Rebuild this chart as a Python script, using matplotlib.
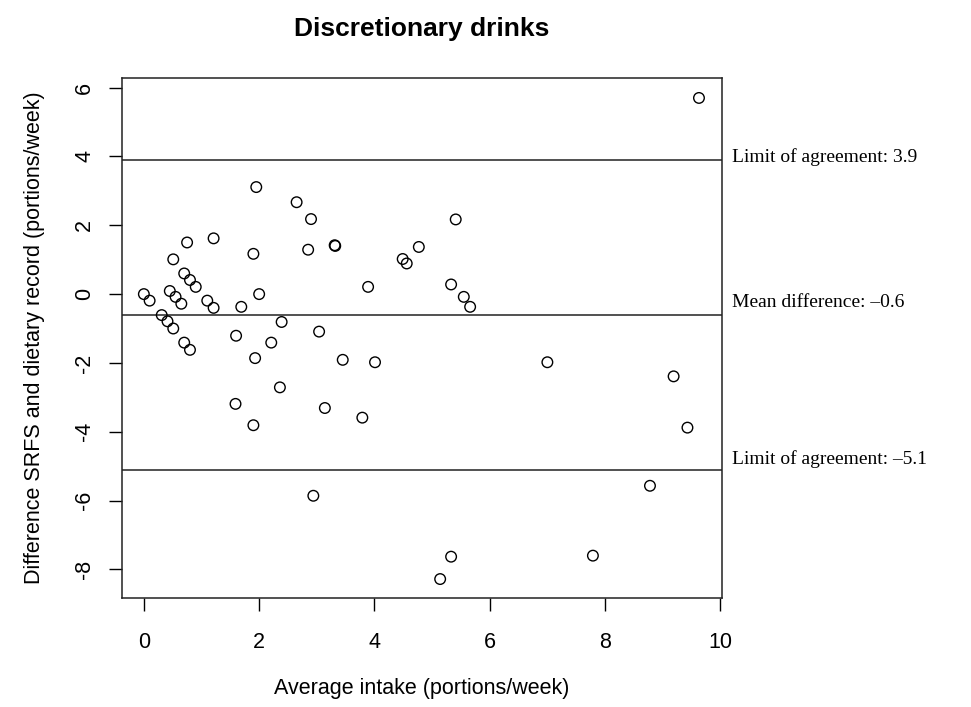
import matplotlib

matplotlib.use("Agg")
import matplotlib.pyplot as plt

# Bland-Altman data
avg_intake = [
    0.00, 0.10, 0.31, 0.41, 0.51, 0.70, 0.80,
    0.45, 0.55, 0.65, 0.51, 0.70, 0.80, 0.90, 0.75,
    1.10, 1.21, 1.21, 1.60, 1.69, 1.90, 1.95, 2.00, 2.21, 2.39,
    2.65, 2.85, 2.90, 3.04, 3.31, 3.32, 3.89, 4.49, 4.56, 4.77,
    1.93, 3.45, 4.01, 2.36, 1.59, 3.14, 3.79, 1.90, 2.94,
    9.63, 5.41, 5.33, 5.55, 5.66,
    7.00, 9.19, 9.43, 8.78, 5.33, 5.14, 7.79,
]
difference = [
    0.00, -0.19, -0.61, -0.79, -1.00, -1.41, -1.62,
    0.09, -0.08, -0.28, 1.01, 0.60, 0.41, 0.21, 1.50,
    -0.19, -0.40, 1.62, -1.21, -0.37, 1.17, 3.11, 0.00, -1.41, -0.81,
    2.67, 1.29, 2.18, -1.09, 1.42, 1.40, 0.21, 1.02, 0.89, 1.37,
    -1.86, -1.91, -1.98, -2.71, -3.19, -3.31, -3.59, -3.81, -5.86,
    5.70, 2.17, 0.28, -0.08, -0.37,
    -1.98, -2.39, -3.88, -5.57, -7.63, -8.28, -7.60,
]

mean_diff = -0.6
loa_upper = 3.9
loa_lower = -5.1

line_values = [loa_upper, mean_diff, loa_lower]
line_labels = ["Limit of agreement: 3.9", "Mean difference: \u20130.6", "Limit of agreement: \u20135.1"]
label_offsets = [3, 12, 11]  # pixels above each line

x_ticks = [0, 2, 4, 6, 8, 10]
y_ticks = [-8, -6, -4, -2, 0, 2, 4, 6]

plt.rcParams["font.family"] = ["Liberation Sans", "DejaVu Sans"]

fig = plt.figure(figsize=(9.71, 7.07), dpi=100)
ax = fig.add_axes([0.1256, 0.1542, 0.618, 0.7355])

ax.scatter(avg_intake, difference, s=58, facecolors="none", edgecolors="black", linewidths=1.0, zorder=3)

for val in line_values:
    ax.axhline(val, color="#222222", linewidth=1.1)

for val, text, off in zip(line_values, line_labels, label_offsets):
    ax.annotate(
        text,
        xy=(1.0, val),
        xycoords=("axes fraction", "data"),
        xytext=(10, off),
        textcoords="offset pixels",
        ha="left",
        va="center",
        fontsize=14,
        family=["Liberation Serif", "DejaVu Serif"],
        annotation_clip=False,
    )

ax.set_xlim(-0.38, 10.03)
ax.set_ylim(-8.83, 6.28)
ax.set_xticks(x_ticks)
ax.set_yticks(y_ticks)
ax.set_yticklabels([str(v) for v in y_ticks], rotation=90, va="center")
ax.tick_params(direction="out", length=9.4, width=1, labelsize=15.5)
ax.tick_params(axis="x", pad=15)
ax.tick_params(axis="y", pad=10)
for spine in ax.spines.values():
    spine.set_linewidth(1.1)
    spine.set_color("#222222")

ax.set_xlabel("Average intake (portions/week)", fontsize=15.5, labelpad=18)
ax.set_ylabel("Difference SRFS and dietary record (portions/week)", fontsize=15.5, labelpad=21)
ax.set_title("Discretionary drinks", fontsize=19, fontweight="bold", pad=30)

fig.savefig("out.png", dpi=100)
